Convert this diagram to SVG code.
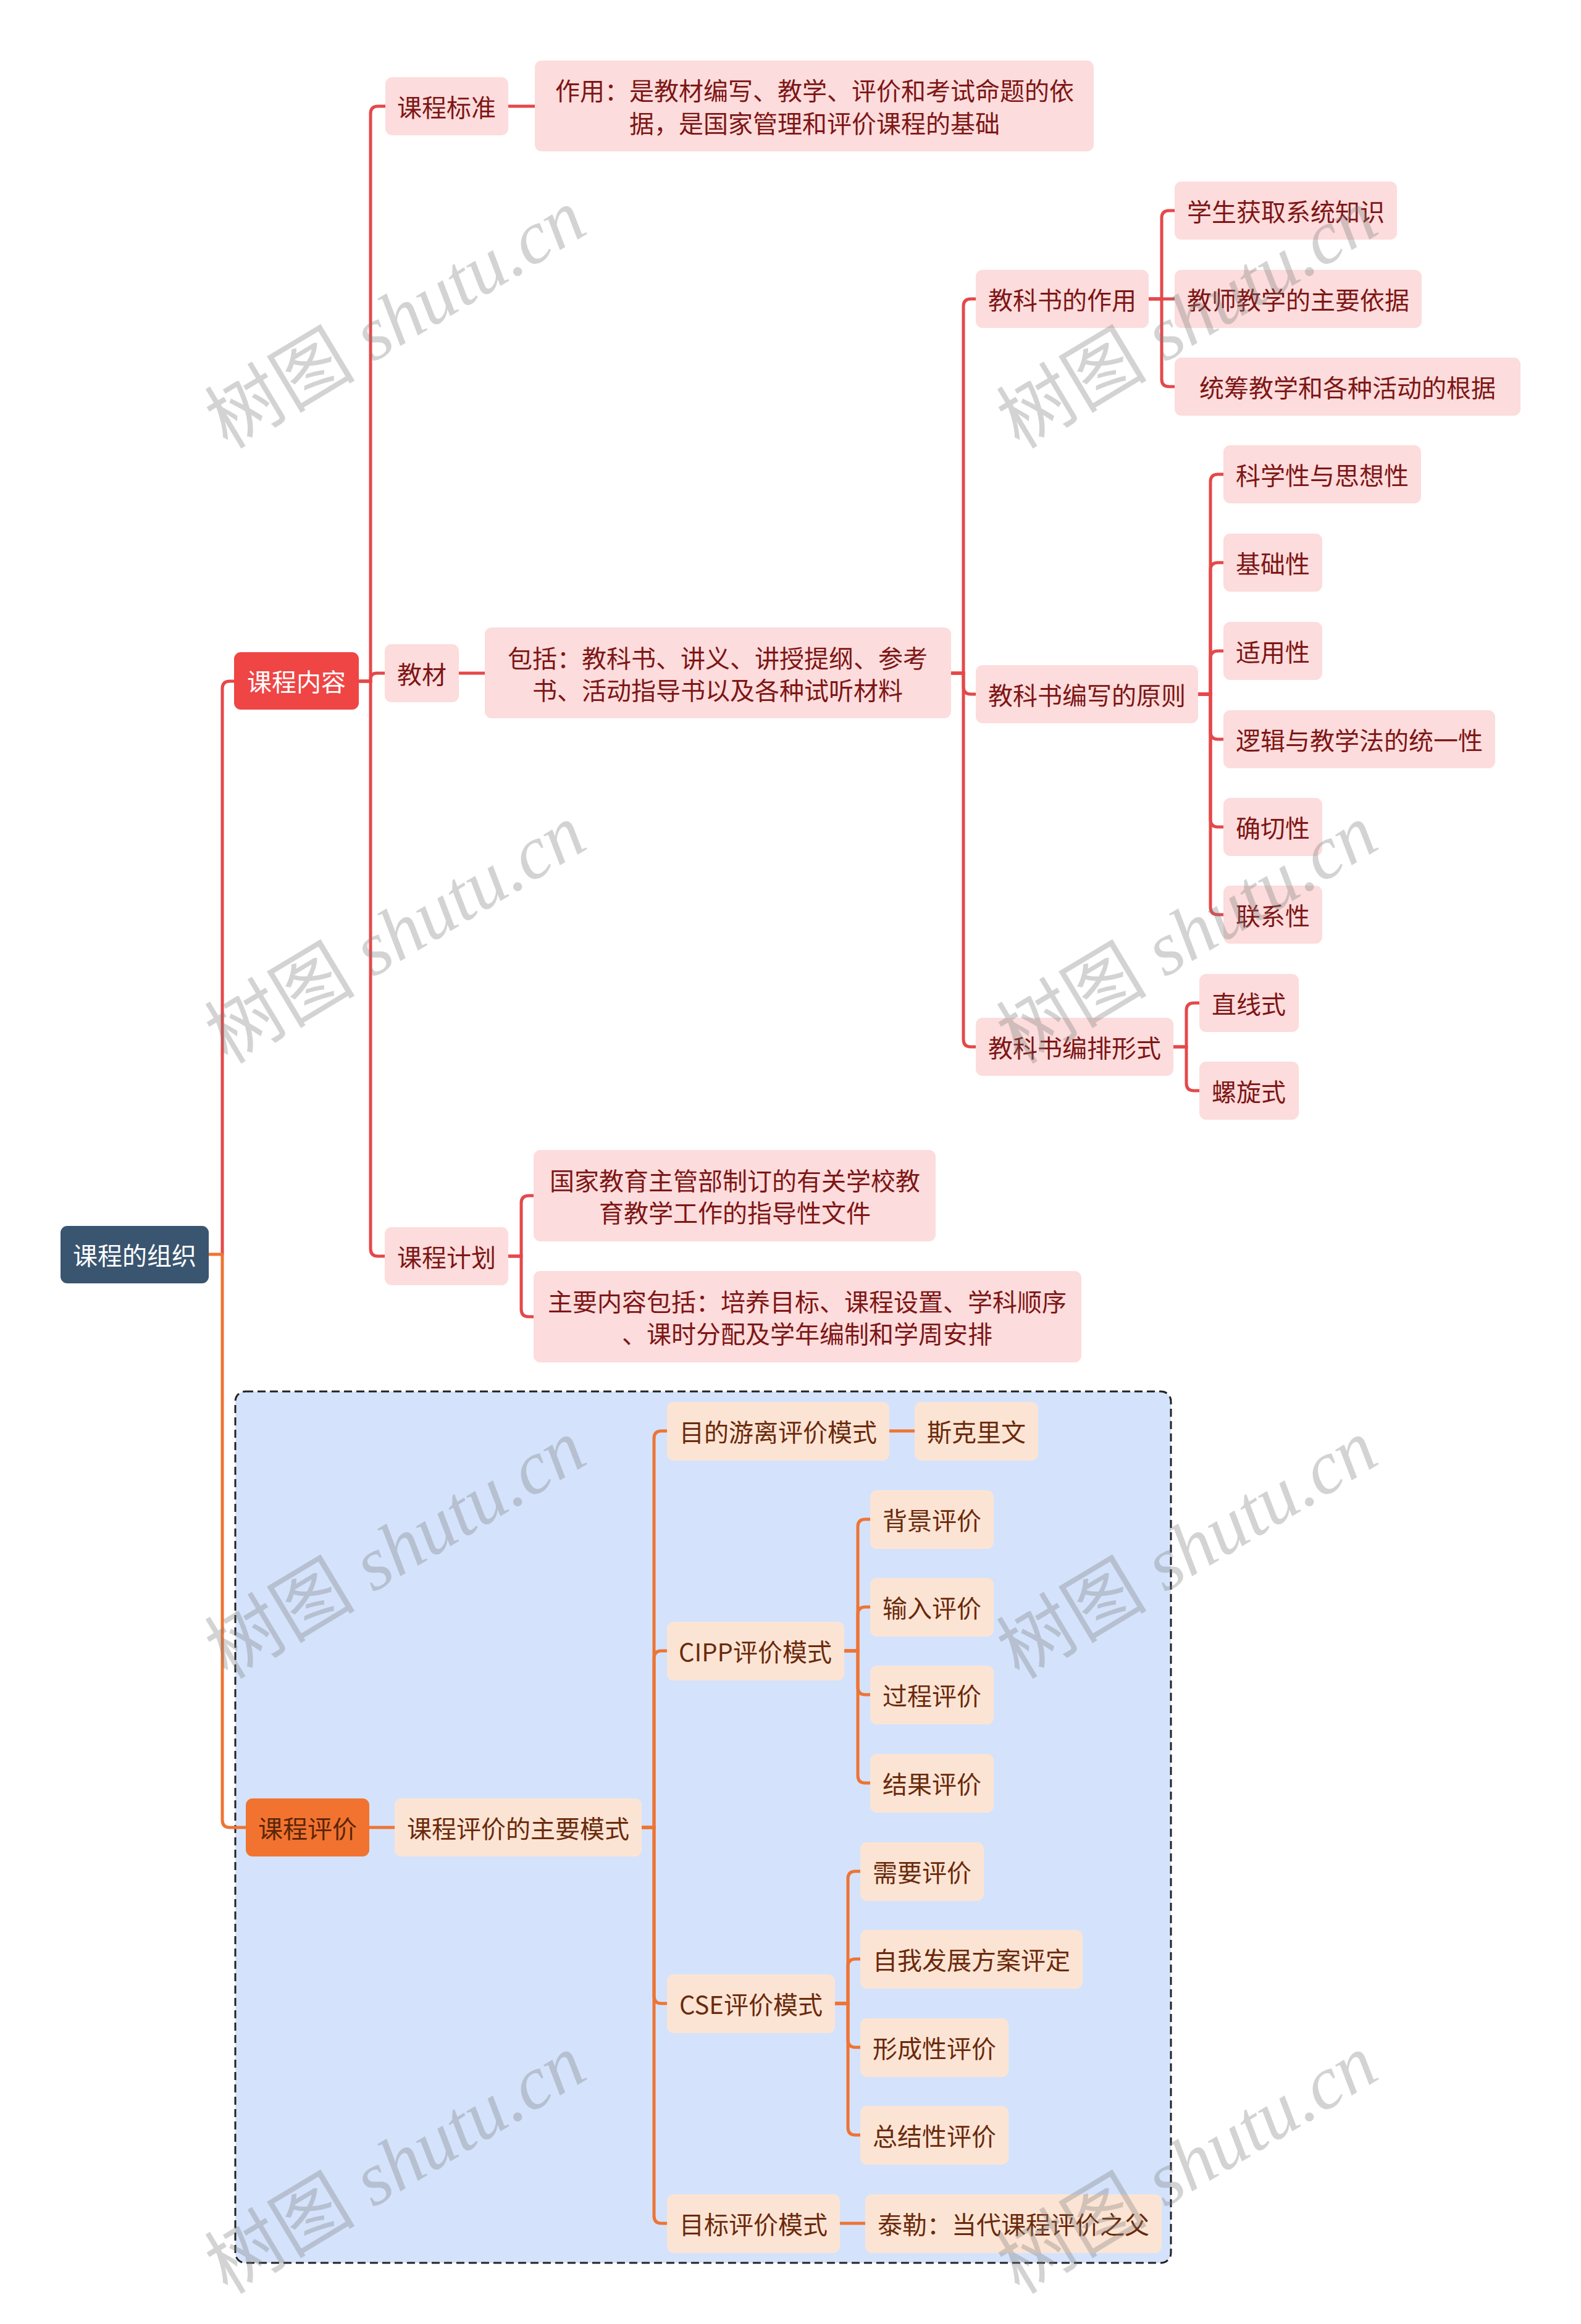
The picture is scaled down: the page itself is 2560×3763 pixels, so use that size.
<svg xmlns="http://www.w3.org/2000/svg" width="2560" height="3763" viewBox="0 0 2560 3763">
<style>
.n rect{rx:11px;ry:11px}
.p rect{fill:#FCDCDC}
.o rect{fill:#FCE4D4}
text{font-family:"Noto Sans CJK SC","Noto Sans",sans-serif;font-size:40px;dominant-baseline:central;text-anchor:middle}
.p text{fill:#7E1616}
.o text{fill:#6A2A0C}
.red path{fill:none;stroke:#E5484A;stroke-width:5;stroke-linecap:round}
.org path{fill:none;stroke:#EE7434;stroke-width:5;stroke-linecap:round}
.wm{font-size:122px;fill:#7F7F7F;fill-opacity:0.34;dominant-baseline:auto;text-anchor:middle}
</style>
<rect width="2560" height="3763" fill="#FFFFFF"/>
<rect id="container" x="381" y="2253" width="1515" height="1411" rx="16" ry="16" fill="#D4E3FB" stroke="#222" stroke-width="3" stroke-dasharray="13,7"/>

<g id="connectors">
 <g class="red">
  <path d="M360,2031 V1115 Q360,1103 372,1103 H379"/>
  <path d="M581,1103 H600 V184 Q600,172 612,172 H624"/>
  <path d="M581,1103 H600 V1100 Q600,1090 610,1090 H623"/>
  <path d="M581,1103 H600 V2022 Q600,2034 612,2034 H623"/>
  <path d="M823,172 H866"/>
  <path d="M743,1090 H785"/>
  <path d="M823,2034 H844 V1948 Q844,1936 856,1936 H864"/>
  <path d="M823,2034 H844 V2120 Q844,2132 856,2132 H864"/>
  <path d="M1540,1090 H1560 V496 Q1560,484 1572,484 H1580"/>
  <path d="M1540,1090 H1560 V1112 Q1560,1124 1572,1124 H1580"/>
  <path d="M1540,1090 H1560 V1683 Q1560,1695 1572,1695 H1580"/>
  <path d="M1860,484 H1881 V353 Q1881,341 1893,341 H1902"/>
  <path d="M1860,484 H1902"/>
  <path d="M1860,484 H1881 V614 Q1881,626 1893,626 H1902"/>
  <path d="M1940,1124 H1960 V780 Q1960,768 1972,768 H1981"/>
  <path d="M1940,1124 H1960 V923 Q1960,911 1972,911 H1981"/>
  <path d="M1940,1124 H1960 V1066 Q1960,1054 1972,1054 H1981"/>
  <path d="M1940,1124 H1960 V1185 Q1960,1197 1972,1197 H1981"/>
  <path d="M1940,1124 H1960 V1327 Q1960,1339 1972,1339 H1981"/>
  <path d="M1940,1124 H1960 V1469 Q1960,1481 1972,1481 H1981"/>
  <path d="M1900,1695 H1921 V1636 Q1921,1624 1933,1624 H1942"/>
  <path d="M1900,1695 H1921 V1754 Q1921,1766 1933,1766 H1942"/>
 </g>
 <g class="org">
  <path d="M338,2031 H360 V2947 Q360,2959 372,2959 H398"/>
  <path d="M597,2959 H639"/>
  <path d="M1039,2959 H1059 V2329 Q1059,2317 1071,2317 H1080"/>
  <path d="M1039,2959 H1059 V2685 Q1059,2673 1071,2673 H1080"/>
  <path d="M1039,2959 H1059 V3232 Q1059,3244 1071,3244 H1080"/>
  <path d="M1039,2959 H1059 V3588 Q1059,3600 1071,3600 H1080"/>
  <path d="M1440,2317 H1481"/>
  <path d="M1367,2673 H1389 V2472 Q1389,2460 1401,2460 H1409"/>
  <path d="M1367,2673 H1389 V2614 Q1389,2602 1401,2602 H1409"/>
  <path d="M1367,2673 H1389 V2732 Q1389,2744 1401,2744 H1409"/>
  <path d="M1367,2673 H1389 V2875 Q1389,2887 1401,2887 H1409"/>
  <path d="M1352,3244 H1373 V3042 Q1373,3030 1385,3030 H1393"/>
  <path d="M1352,3244 H1373 V3184 Q1373,3172 1385,3172 H1393"/>
  <path d="M1352,3244 H1373 V3303 Q1373,3315 1385,3315 H1393"/>
  <path d="M1352,3244 H1373 V3445 Q1373,3457 1385,3457 H1393"/>
  <path d="M1360,3600 H1401"/>
 </g>
</g>

<g id="root" class="n"><rect x="98" y="1985" width="240" height="93" fill="#3A5570"/><text x="218" y="2031" fill="#FFFFFF">课程的组织</text></g>
<g id="kcnr" class="n"><rect x="379" y="1056" width="202" height="93" fill="#EF4545"/><text x="480" y="1102" fill="#FFFFFF">课程内容</text></g>
<g id="kcpj" class="n"><rect x="398" y="2912" width="200" height="94" fill="#F2732F"/><text x="498" y="2959" fill="#5A2508">课程评价</text></g>

<g id="kcbz" class="n p"><rect x="624" y="125" width="199" height="94"/><text x="723" y="172">课程标准</text></g>
<g id="jc" class="n p"><rect x="623" y="1043" width="120" height="94"/><text x="683" y="1090">教材</text></g>
<g id="kcjh" class="n p"><rect x="623" y="1987" width="200" height="94"/><text x="723" y="2034">课程计划</text></g>
<g id="zuoyong" class="n p"><rect x="866" y="98" width="905" height="147"/><text x="1319" y="145">作用：是教材编写、教学、评价和考试命题的依</text><text x="1319" y="198">据，是国家管理和评价课程的基础</text></g>
<g id="baokuo" class="n p"><rect x="785" y="1016" width="755" height="147"/><text x="1162" y="1064">包括：教科书、讲义、讲授提纲、参考</text><text x="1162" y="1116">书、活动指导书以及各种试听材料</text></g>
<g id="guojia" class="n p"><rect x="864" y="1862" width="651" height="148"/><text x="1190" y="1910">国家教育主管部制订的有关学校教</text><text x="1190" y="1962">育教学工作的指导性文件</text></g>
<g id="zhuyao" class="n p"><rect x="864" y="2058" width="887" height="148"/><text x="1307" y="2106">主要内容包括：培养目标、课程设置、学科顺序</text><text x="1307" y="2158">、课时分配及学年编制和学周安排</text></g>
<g id="jkszy" class="n p"><rect x="1580" y="437" width="280" height="94"/><text x="1720" y="484">教科书的作用</text></g>
<g id="jksbxyz" class="n p"><rect x="1580" y="1077" width="360" height="94"/><text x="1760" y="1124">教科书编写的原则</text></g>
<g id="jksbpxs" class="n p"><rect x="1580" y="1648" width="320" height="94"/><text x="1740" y="1695">教科书编排形式</text></g>
<g id="xs" class="n p"><rect x="1902" y="294" width="360" height="94"/><text x="2082" y="341">学生获取系统知识</text></g>
<g id="js" class="n p"><rect x="1902" y="437" width="400" height="94"/><text x="2102" y="484">教师教学的主要依据</text></g>
<g id="tc" class="n p"><rect x="1902" y="579" width="560" height="94"/><text x="2182" y="626">统筹教学和各种活动的根据</text></g>
<g id="kxx" class="n p"><rect x="1981" y="721" width="320" height="94"/><text x="2141" y="768">科学性与思想性</text></g>
<g id="jcx" class="n p"><rect x="1981" y="864" width="160" height="94"/><text x="2061" y="911">基础性</text></g>
<g id="syx" class="n p"><rect x="1981" y="1007" width="160" height="94"/><text x="2061" y="1054">适用性</text></g>
<g id="lj" class="n p"><rect x="1981" y="1150" width="440" height="94"/><text x="2201" y="1197">逻辑与教学法的统一性</text></g>
<g id="qqx" class="n p"><rect x="1981" y="1292" width="160" height="94"/><text x="2061" y="1339">确切性</text></g>
<g id="lxx" class="n p"><rect x="1981" y="1434" width="160" height="94"/><text x="2061" y="1481">联系性</text></g>
<g id="zxs" class="n p"><rect x="1942" y="1577" width="161" height="94"/><text x="2022" y="1624">直线式</text></g>
<g id="lxs" class="n p"><rect x="1942" y="1719" width="161" height="94"/><text x="2022" y="1766">螺旋式</text></g>

<g id="zyms" class="n o"><rect x="639" y="2912" width="400" height="94"/><text x="839" y="2959">课程评价的主要模式</text></g>
<g id="mdyl" class="n o"><rect x="1080" y="2270" width="360" height="95"/><text x="1260" y="2317">目的游离评价模式</text></g>
<g id="sklw" class="n o"><rect x="1481" y="2270" width="200" height="95"/><text x="1581" y="2317">斯克里文</text></g>
<g id="cipp" class="n o"><rect x="1080" y="2626" width="287" height="95"/><text x="1223" y="2673">CIPP评价模式</text></g>
<g id="bj" class="n o"><rect x="1409" y="2413" width="200" height="95"/><text x="1509" y="2460">背景评价</text></g>
<g id="sr" class="n o"><rect x="1409" y="2555" width="200" height="95"/><text x="1509" y="2602">输入评价</text></g>
<g id="gc" class="n o"><rect x="1409" y="2697" width="200" height="95"/><text x="1509" y="2744">过程评价</text></g>
<g id="jg" class="n o"><rect x="1409" y="2840" width="200" height="95"/><text x="1509" y="2887">结果评价</text></g>
<g id="cse" class="n o"><rect x="1080" y="3197" width="272" height="95"/><text x="1216" y="3244">CSE评价模式</text></g>
<g id="xy" class="n o"><rect x="1393" y="2983" width="200" height="95"/><text x="1493" y="3030">需要评价</text></g>
<g id="zw" class="n o"><rect x="1393" y="3125" width="360" height="95"/><text x="1573" y="3172">自我发展方案评定</text></g>
<g id="xc" class="n o"><rect x="1393" y="3268" width="240" height="95"/><text x="1513" y="3315">形成性评价</text></g>
<g id="zj" class="n o"><rect x="1393" y="3410" width="240" height="95"/><text x="1513" y="3457">总结性评价</text></g>
<g id="mb" class="n o"><rect x="1080" y="3553" width="280" height="95"/><text x="1220" y="3600">目标评价模式</text></g>
<g id="tl" class="n o"><rect x="1401" y="3553" width="480" height="95"/><text x="1641" y="3600">泰勒：当代课程评价之父</text></g>

<g id="watermarks">
 <text class="wm" transform="translate(662,552) rotate(-31)">树图<tspan font-family="Liberation Serif" font-style="italic"> shutu.cn</tspan></text>
 <text class="wm" transform="translate(1944,552) rotate(-31)">树图<tspan font-family="Liberation Serif" font-style="italic"> shutu.cn</tspan></text>
 <text class="wm" transform="translate(662,1548) rotate(-31)">树图<tspan font-family="Liberation Serif" font-style="italic"> shutu.cn</tspan></text>
 <text class="wm" transform="translate(1944,1548) rotate(-31)">树图<tspan font-family="Liberation Serif" font-style="italic"> shutu.cn</tspan></text>
 <text class="wm" transform="translate(662,2544) rotate(-31)">树图<tspan font-family="Liberation Serif" font-style="italic"> shutu.cn</tspan></text>
 <text class="wm" transform="translate(1944,2544) rotate(-31)">树图<tspan font-family="Liberation Serif" font-style="italic"> shutu.cn</tspan></text>
 <text class="wm" transform="translate(662,3540) rotate(-31)">树图<tspan font-family="Liberation Serif" font-style="italic"> shutu.cn</tspan></text>
 <text class="wm" transform="translate(1944,3540) rotate(-31)">树图<tspan font-family="Liberation Serif" font-style="italic"> shutu.cn</tspan></text>
</g>
</svg>
